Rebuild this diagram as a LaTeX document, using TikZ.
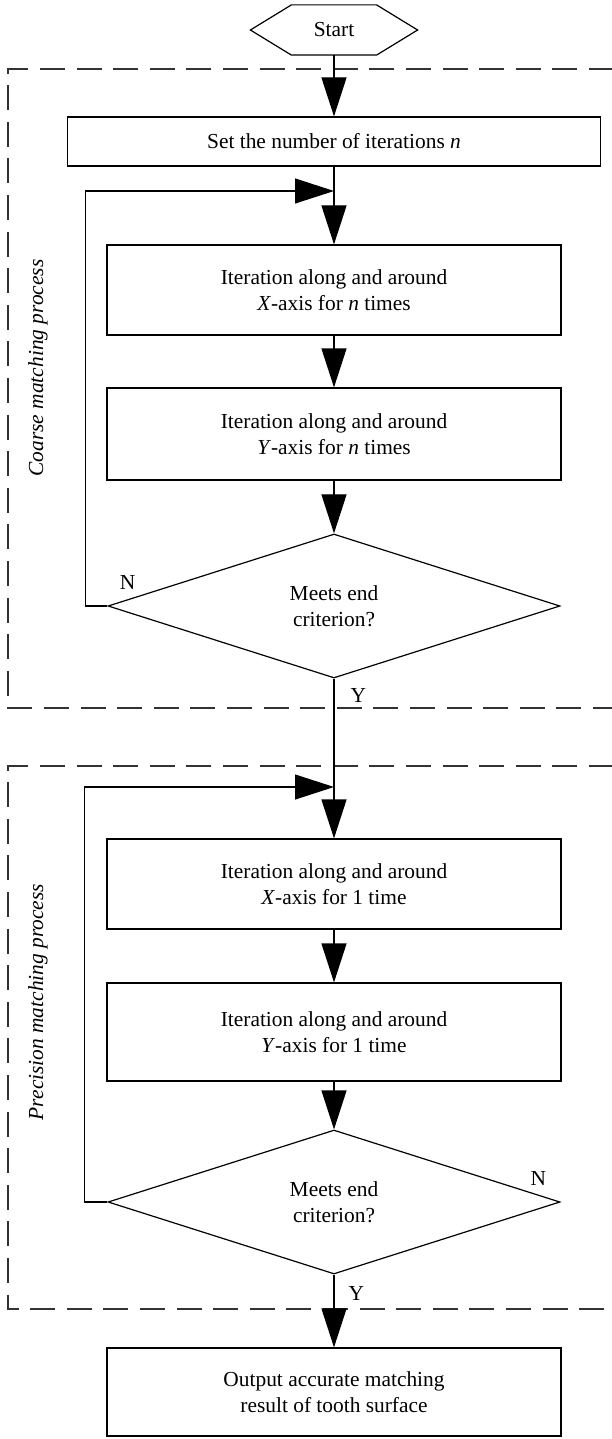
\documentclass[tikz,border=0pt]{standalone}
\usepackage{fontspec}
\setmainfont{Liberation Serif}
\usetikzlibrary{positioning, shapes.geometric, arrows.meta}

\begin{document}
\begin{tikzpicture}[line width=0.6pt, node distance=2cm, on grid,
        font=\fontsize{10.7}{13}\selectfont,
        box/.style={draw, rectangle, minimum width=227pt, align=center, inner sep=0pt},
        decision/.style={draw, diamond, aspect=3.14, minimum width=226pt, minimum height=72pt, align=center, inner sep=0pt},
        terminal/.style={rectangle, minimum width=83pt, minimum height=24.5pt, inner sep=0pt},
        flow/.style={-{Triangle[length=19.5pt,width=12.5pt]}},
        group/.style={dash pattern=on 12.5pt off 5.8pt, line width=0.75pt, black!80},
        grouplabel/.style={rotate=90, font=\fontsize{10.7}{13}\selectfont\itshape},
        yn/.style={inner sep=0pt}]
        \useasboundingbox (-167pt,15pt) rectangle (138.5pt,-704.5pt);

        \node[terminal]                               (start)                      {Start};
        \node[box, minimum width=266.5pt, minimum height=24.5pt] (set) [below=55.75pt of start] {Set the number of iterations \textit{n}};
        \node[box, minimum height=45pt]               (x1) [below=74.25pt of set]  {Iteration along and around\\\textit{X}-axis for \textit{n} times};
        \node[box, minimum height=46pt]               (y1) [below=72pt of x1]      {Iteration along and around\\\textit{Y}-axis for \textit{n} times};
        \node[decision]                               (d1) [below=86pt of y1]      {Meets end\\criterion?};
        \node[box, minimum height=45pt]               (x2) [below=139pt of d1]     {Iteration along and around\\\textit{X}-axis for 1 time};
        \node[box, minimum height=49pt]               (y2) [below=74pt of x2]      {Iteration along and around\\\textit{Y}-axis for 1 time};
        \node[decision]                               (d2) [below=85pt of y2]      {Meets end\\criterion?};
        \node[box, minimum height=44pt]               (out) [below=95pt of d2]     {Output accurate matching\\result of tooth surface};

        % hexagon round the start node
        \draw ([xshift=20.5pt]start.north west) -- ([xshift=-20.5pt]start.north east) -- (start.east)
              -- ([xshift=-20.5pt]start.south east) -- ([xshift=20.5pt]start.south west) -- (start.west) -- cycle;

        \coordinate[below=24.75pt of set] (j1);
        \coordinate[below=90.5pt of d1]   (j2);

        % dashed process groups
        \draw[group] (140pt,-19.5pt) -| (-163pt,-339pt) -- (140pt,-339pt);
        \draw[group] (140pt,-368pt) -| (-163pt,-639.5pt) -- (140pt,-639.5pt);
        \node[grouplabel] (coarse) at (-148pt,-169pt) {Coarse matching process};
        \node[grouplabel] (precise) at (-148pt,-486pt) {Precision matching process};

        \path[flow]
        (start) edge (set)
        (set) edge (x1)
        (x1) edge (y1)
        (y1) edge (d1)
        (d1) edge (x2)
        (x2) edge (y2)
        (y2) edge (d2)
        (d2) edge (out)
        ;

        % loops back
        \draw[flow] (d1.west) -- ++(-11pt,0) |- (j1);
        \draw[flow] (d2.west) -- ++(-11.5pt,0) |- (j2);

        \node[yn] (n1) [above right=8pt and 6pt of d1.west] {N};
        \node[yn] (y1l) [below right=4.5pt and 8pt of d1.south] {Y};
        \node[yn] (n2) [above left=8pt and 7pt of d2.east] {N};
        \node[yn] (y2l) [below right=5.5pt and 7pt of d2.south] {Y};
    \end{tikzpicture}
\end{document}
